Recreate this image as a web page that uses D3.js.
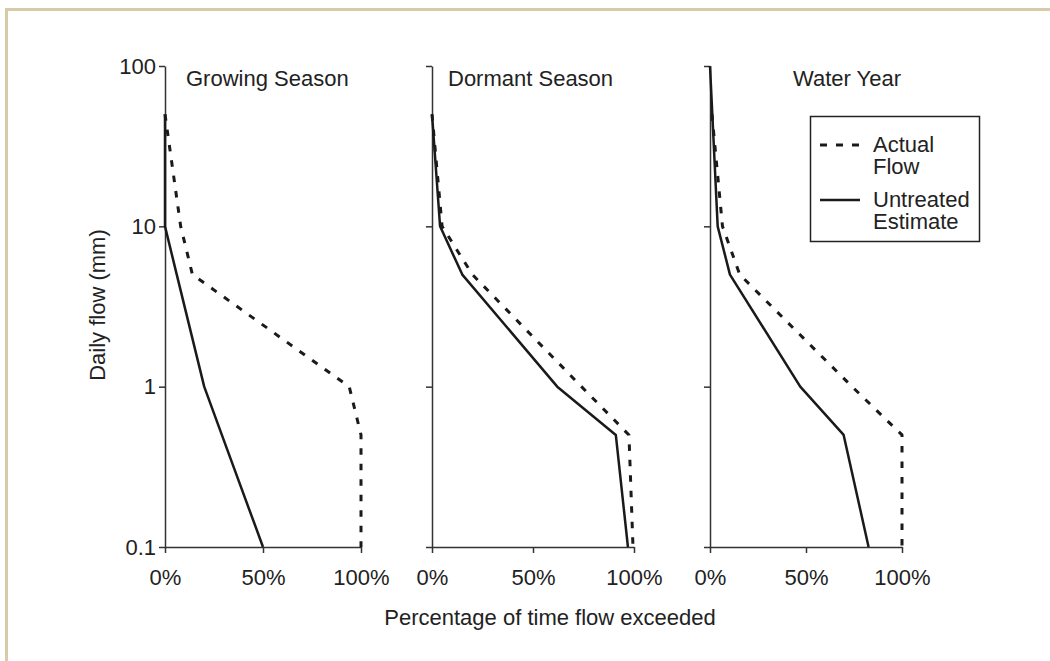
<!DOCTYPE html>
<html>
<head>
<meta charset="utf-8">
<script src="https://cdn.jsdelivr.net/npm/d3@7"></script>
<style>
  body { margin: 0; background: #fff; }
  svg { display: block; font-family: "Liberation Sans", Arial, sans-serif; }
</style>
</head>
<body>
<div id="chart"></div>
<script>
// flow levels (mm/day) shared by every curve; null = no point at that level
const flowLevels = [100, 50, 10, 5, 1, 0.5, 0.1];
const panelTitles = ["Growing Season", "Dormant Season", "Water Year"];

// percent of time exceeded, one value per flow level
const growingActual    = [null, 0, 8, 14, 94, 100, 100];
const growingUntreated = [null, 0, 0, 6, 20, 29, 50];
const dormantActual    = [null, 0, 5, 20, 74, 97.5, 99.5];
const dormantUntreated = [null, 0, 4, 15, 62, 91, 97];
const waterActual      = [null, 1, 6.5, 15.5, 74, 100, 100];
const waterUntreated   = [0, null, 4, 10.4, 47, 69.6, 82.6];

const yTicks = [0.1, 1, 10, 100];
const xTicks = [0, 50, 100];
const legendLabels = [["Actual", "Flow"], ["Untreated", "Estimate"]];

const series = [
  [growingActual, growingUntreated],
  [dormantActual, dormantUntreated],
  [waterActual, waterUntreated]
];

const W = 1050, H = 661;
const svg = d3.select("#chart").append("svg")
    .attr("width", W)
    .attr("height", H);

// beige page frame
svg.append("rect")
    .attr("x", 6.5).attr("y", 9.5)
    .attr("width", W + 20).attr("height", H + 20)
    .attr("fill", "none")
    .attr("stroke", "#d8cba7")
    .attr("stroke-width", 3);

const plotTop = 66, plotBottom = 547;
const panelX = [165, 432, 710];
const panelW = [196, 202, 192];
const fs = 22;
const ink = "#222";

const y = d3.scaleLog().domain([0.1, 100]).range([plotBottom, plotTop]);

const line = d3.line()
    .x(d => d.x)
    .y(d => y(d[1]));

panelTitles.forEach((title, i) => {
  const x = d3.scaleLinear().domain([0, 100]).range([panelX[i], panelX[i] + panelW[i]]);

  // y axis
  const yAxis = svg.append("g")
      .attr("transform", `translate(${panelX[i]},0)`)
      .call(d3.axisLeft(y).tickValues(yTicks).tickSize(6).tickSizeOuter(0)
        .tickFormat(i === 0 ? d => String(d) : () => ""));
  // x axis
  const xAxis = svg.append("g")
      .attr("transform", `translate(0,${plotBottom})`)
      .call(d3.axisBottom(x).tickValues(xTicks).tickSize(6).tickSizeOuter(0).tickPadding(16)
        .tickFormat(d => d + "%"));

  [yAxis, xAxis].forEach(a => {
    a.selectAll("path, line").attr("stroke", "#333").attr("stroke-width", 1.5);
    a.selectAll("text").attr("fill", ink).style("font-size", fs + "px")
      .style("font-family", "Liberation Sans, Arial, sans-serif");
  });

  // curves
  series[i].forEach((vals, k) => {
    const pts = flowLevels.map((f, j) => {
      const p = [vals[j], f];
      p.x = vals[j] == null ? 0 : x(vals[j]);
      return p;
    }).filter(p => p[0] != null);
    svg.append("path")
        .datum(pts)
        .attr("d", line)
        .attr("fill", "none")
        .attr("stroke", "#1a1a1a")
        .attr("stroke-width", k === 0 ? 3 : 2.5)
        .attr("stroke-dasharray", k === 0 ? "6.5,9" : null)
        .attr("stroke-linejoin", "round");
  });

  // panel title
  const titleX = [186, 448, 793][i];
  svg.append("text")
      .attr("x", titleX).attr("y", 86)
      .attr("fill", ink)
      .style("font-size", fs + "px")
      .text(title);
});

// legend
const lg = svg.append("g");
lg.append("rect")
    .attr("x", 810.5).attr("y", 116.5)
    .attr("width", 169).attr("height", 125)
    .attr("fill", "#fff")
    .attr("stroke", "#222")
    .attr("stroke-width", 1.5);
[145, 200].forEach((ly, k) => {
  lg.append("line")
      .attr("x1", 820).attr("x2", 860)
      .attr("y1", ly).attr("y2", ly)
      .attr("stroke", "#1a1a1a")
      .attr("stroke-width", k === 0 ? 3 : 2.5)
      .attr("stroke-dasharray", k === 0 ? "7,9" : null);
  const t = lg.append("text")
      .attr("x", 873).attr("y", ly + 7)
      .attr("fill", ink)
      .style("font-size", fs + "px");
  legendLabels[k].forEach((s, j) => {
    t.append("tspan").attr("x", 873).attr("dy", j === 0 ? 0 : 21.5).text(s);
  });
});

// axis titles
svg.append("text")
    .attr("transform", "translate(105,305) rotate(-90)")
    .attr("text-anchor", "middle")
    .attr("fill", ink)
    .style("font-size", fs + "px")
    .text("Daily flow (mm)");

svg.append("text")
    .attr("x", 550).attr("y", 625)
    .attr("text-anchor", "middle")
    .attr("fill", ink)
    .style("font-size", fs + "px")
    .text("Percentage of time flow exceeded");
</script>
</body>
</html>
